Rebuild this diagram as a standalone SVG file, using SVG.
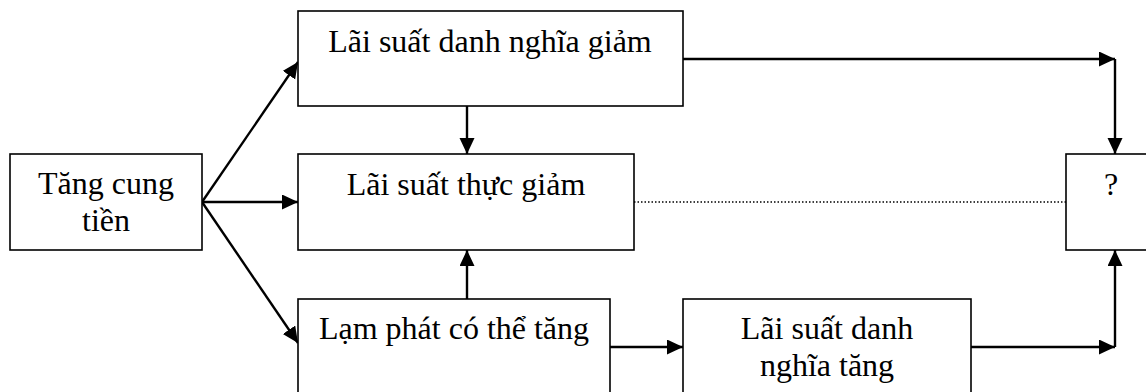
<svg xmlns="http://www.w3.org/2000/svg" width="1146" height="392" viewBox="0 0 1146 392">
<style>
.box{fill:#fff;stroke:#000;stroke-width:1.6}
.t{font-family:"Liberation Serif","Times New Roman",serif;font-size:32px;fill:#000;text-anchor:middle}
.c{fill:none;stroke:#000;stroke-width:2.4}
.d{fill:none;stroke:#000;stroke-width:1.3;stroke-dasharray:1.5 2}
</style>
<defs>
<marker id="ah" markerUnits="userSpaceOnUse" markerWidth="18" markerHeight="16" refX="16" refY="7.5" orient="auto">
<path d="M0,0 L16,7.5 L0,15 Z" fill="#000"/>
</marker>
</defs>
<rect width="1146" height="392" fill="#fff"/>
<g id="connectors">
<path class="c" d="M202,202 L298,62" marker-end="url(#ah)"/>
<path class="c" d="M202,202 L298,202" marker-end="url(#ah)"/>
<path class="c" d="M202,202 L298,343" marker-end="url(#ah)"/>
<path class="c" d="M467,106 L467,154" marker-end="url(#ah)"/>
<path class="c" d="M467,299 L467,250" marker-end="url(#ah)"/>
<path class="c" d="M683,59 L1115,59" marker-end="url(#ah)"/>
<path class="c" d="M1115,59 L1115,154" marker-end="url(#ah)"/>
<path class="d" d="M634,202 L1066,202"/>
<path class="c" d="M610,347 L683,347" marker-end="url(#ah)"/>
<path class="c" d="M971,347 L1115,347" marker-end="url(#ah)"/>
<path class="c" d="M1115,347 L1115,250" marker-end="url(#ah)"/>
</g>
<g id="tang-cung-tien">
<rect class="box" x="10" y="154" width="192" height="96"/>
<text class="t" x="106" y="194">Tăng cung</text>
<text class="t" x="106" y="231">tiền</text>
</g>
<g id="lai-suat-danh-nghia-giam">
<rect class="box" x="298" y="11" width="385" height="95"/>
<text class="t" x="490" y="52">Lãi suất danh nghĩa giảm</text>
</g>
<g id="lai-suat-thuc-giam">
<rect class="box" x="298" y="154" width="336" height="96"/>
<text class="t" x="466" y="195">Lãi suất thực giảm</text>
</g>
<g id="lam-phat">
<rect class="box" x="298" y="299" width="312" height="110"/>
<text class="t" x="454" y="339">Lạm phát có thể tăng</text>
</g>
<g id="lai-suat-danh-nghia-tang">
<rect class="box" x="683" y="299" width="288" height="110"/>
<text class="t" x="827" y="339">Lãi suất danh</text>
<text class="t" x="827" y="376">nghĩa tăng</text>
</g>
<g id="question">
<rect class="box" x="1066" y="154" width="92" height="96"/>
<text class="t" x="1111" y="195">?</text>
</g>
</svg>
